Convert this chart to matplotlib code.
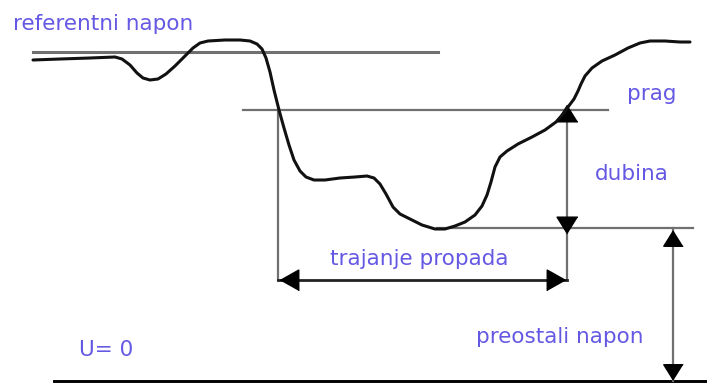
import numpy as np
import matplotlib
matplotlib.use('Agg')
import matplotlib.pyplot as plt

# voltage sag sketch, coordinates (pixels, y down)
curve_x = [33, 60, 90, 115, 122, 130, 137, 143, 150, 158, 166, 175, 185, 193, 200, 208, 225, 240,
           250, 257, 262, 266, 270, 274, 279, 284, 289, 294, 300, 306, 314, 325, 340, 355, 367,
           374, 380, 386, 393, 400, 410, 422, 435, 445, 455, 465, 475, 482, 487, 491, 495, 500,
           507, 518, 532, 545, 556, 563, 568, 574, 578, 581, 585, 592, 602, 615, 628, 640, 650,
           665, 680, 690]
curve_y = [60, 59, 58, 57, 59, 65, 73, 78, 80, 79, 74, 66, 56, 48, 43, 41, 40, 40,
           41, 44, 49, 58, 72, 90, 110, 128, 145, 160, 171, 177, 180, 180, 178, 177, 176,
           178, 184, 194, 207, 214, 219, 225, 229, 229, 226, 222, 215, 206, 195, 182, 167, 157,
           151, 144, 137, 130, 122, 114, 107, 99, 91, 84, 76, 68, 61, 55, 48, 43, 41,
           41, 42, 42]

ref_level = 52
prag_level = 110
dip_level = 228
arrow_level = 280
zero_level = 381
sag_start = 278
sag_end = 567
residual_x = 673

labels = ['referentni napon', 'prag', 'dubina', 'trajanje propada', 'preostali napon', 'U= 0']
label_x = [13, 627, 595, 330, 476, 79]
label_y = [30, 100, 180, 265, 343, 356]

gray = '#707070'
txt_color = '#6559e4'

fig = plt.figure(figsize=(7.07, 3.83), dpi=100)
ax = fig.add_axes([0, 0, 1, 1])
ax.set_xlim(0, 707)
ax.set_ylim(383, 0)
ax.axis('off')

# horizontal reference lines
ax.plot([33, 438], [ref_level, ref_level], color=gray, lw=2.2)
ax.plot([243, 608], [prag_level, prag_level], color=gray, lw=1.6)
ax.plot([437, 693], [dip_level, dip_level], color=gray, lw=1.6)
ax.plot([54, 707], [zero_level, zero_level], color='black', lw=2.1)

# vertical guides
ax.plot([sag_start, sag_start], [prag_level, arrow_level], color=gray, lw=1.6)
ax.plot([sag_end, sag_end], [prag_level, arrow_level], color=gray, lw=1.6)
ax.plot([residual_x, residual_x], [dip_level, zero_level], color=gray, lw=1.6)

# duration arrow
ax.plot([sag_start, sag_end], [arrow_level, arrow_level], color='#222222', lw=2.0)

# arrow heads
tri_up = [(0, 0.8), (-1, -0.8), (1, -0.8)]
tri_down = [(0, -0.8), (-1, 0.8), (1, 0.8)]
tri_left = [(-0.8, 0), (0.8, 0.9), (0.8, -0.9)]
tri_right = [(0.8, 0), (-0.8, 0.9), (-0.8, -0.9)]
hs = 15
ax.plot([sag_end], [prag_level + 3], marker=tri_up, ms=hs, color='black', ls='none')
ax.plot([sag_end], [dip_level - 3], marker=tri_down, ms=hs, color='black', ls='none')
ax.plot([sag_start + 11], [arrow_level], marker=tri_left, ms=hs, color='black', ls='none')
ax.plot([sag_end - 11], [arrow_level], marker=tri_right, ms=hs, color='black', ls='none')
ax.plot([residual_x], [dip_level + 10], marker=tri_up, ms=hs - 1, color='black', ls='none')
ax.plot([residual_x], [zero_level - 9], marker=tri_down, ms=hs - 1, color='black', ls='none')

# voltage curve
ax.plot(curve_x, curve_y, color='#111111', lw=2.2, solid_joinstyle='round', solid_capstyle='round')

for s, x, y in zip(labels, label_x, label_y):
    ax.text(x, y, s, color=txt_color, fontsize=15.5, ha='left', va='baseline',
            family='DejaVu Sans')

fig.savefig('out.png', dpi=100)
